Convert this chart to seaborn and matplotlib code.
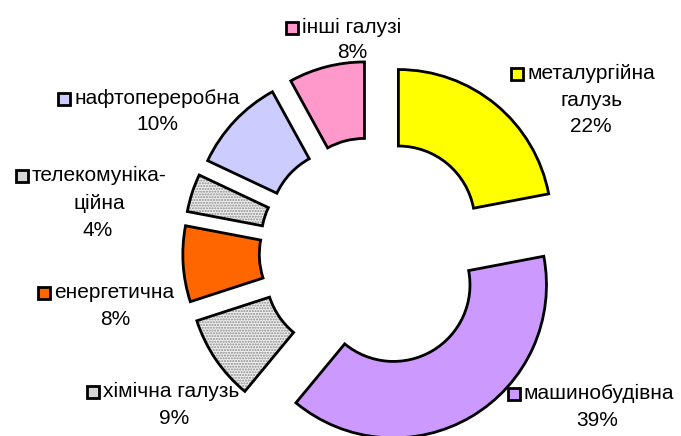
import matplotlib
matplotlib.use("Agg")
import matplotlib.pyplot as plt
import seaborn as sns
from matplotlib.patches import Wedge, Rectangle

# ---- data ----
categories = ["металургійна\nгалузь", "машинобудівна", "хімічна галузь", "енергетична",
              "телекомуніка-\nційна", "нафтопереробна", "інші галузі"]
shares = [22, 39, 9, 8, 4, 10, 8]
pct_labels = ["22%", "39%", "9%", "8%", "4%", "10%", "8%"]

# ---- styles / layout ----
colors = ["#FFFF00", "#CC99FF", "#E4E4E4", "#FF6600", "#E4E4E4", "#CCCCFF", "#FF99CC"]
hatched = [False, False, True, False, True, False, False]
W, H = 681, 436
CX, CY, RPX = 374, 252, 153  # pie centre and radius in pixels
# label line centres (pixels from top-left)
label_pos = [
    [(591, 73), (591, 100), (591, 127)],
    [(599, 393), (597, 420)],
    [(171, 391), (174, 418)],
    [(114, 292), (115, 319)],
    [(99, 175), (99, 203), (98, 230)],
    [(157, 98), (157, 125)],
    [(352, 27), (352, 52)],
]

sns.set_theme(style="white")
plt.rcParams["font.family"] = ["Liberation Sans", "DejaVu Sans"]

fig = plt.figure(figsize=(W / 100, H / 100), dpi=100)
fig.patch.set_facecolor("white")
ax = fig.add_axes([0, 0, 1, 1])
ax.set_facecolor("white")

wedges, _ = ax.pie(shares, colors=colors, startangle=90, counterclock=False,
                   explode=[0.25] * len(shares), radius=1.0,
                   wedgeprops=dict(width=0.5, edgecolor="black", linewidth=2))

for w, h in zip(wedges, hatched):
    if h:
        under = Wedge(w.center, w.r, w.theta1, w.theta2, width=w.width,
                      facecolor="#EFEFEF", edgecolor="#8A8A8A", hatch="......",
                      linewidth=0, zorder=w.get_zorder() - 0.1)
        ax.add_patch(under)
        w.set_facecolor("none")

ax.set_xlim(-CX / RPX, (W - CX) / RPX)
ax.set_ylim(-(H - CY) / RPX, CY / RPX)
ax.set_aspect("auto")
ax.axis("off")

fs = 15
first_lines = []
for cat, pct, pos in zip(categories, pct_labels, label_pos):
    lines = cat.split("\n") + [pct]
    texts = []
    for line, (px, py) in zip(lines, pos):
        t = fig.text(px / W, 1 - py / H, line, ha="center", va="center",
                     fontsize=fs, color="black")
        texts.append(t)
    first_lines.append(texts[0])

fig.canvas.draw()
renderer = fig.canvas.get_renderer()
sq = 12
for t, col, h in zip(first_lines, colors, hatched):
    bb = t.get_window_extent(renderer)
    x0 = bb.x0 - 4 - sq
    yc = (bb.y0 + bb.y1) / 2 - 1
    rect = Rectangle((x0 / W, (yc - sq / 2) / H), sq / W, sq / H,
                     transform=fig.transFigure, facecolor=(col if not h else "#D6D6D6"),
                     edgecolor="black", linewidth=2, zorder=5)
    fig.patches.append(rect)

fig.savefig("out.png", dpi=100, facecolor="white")
